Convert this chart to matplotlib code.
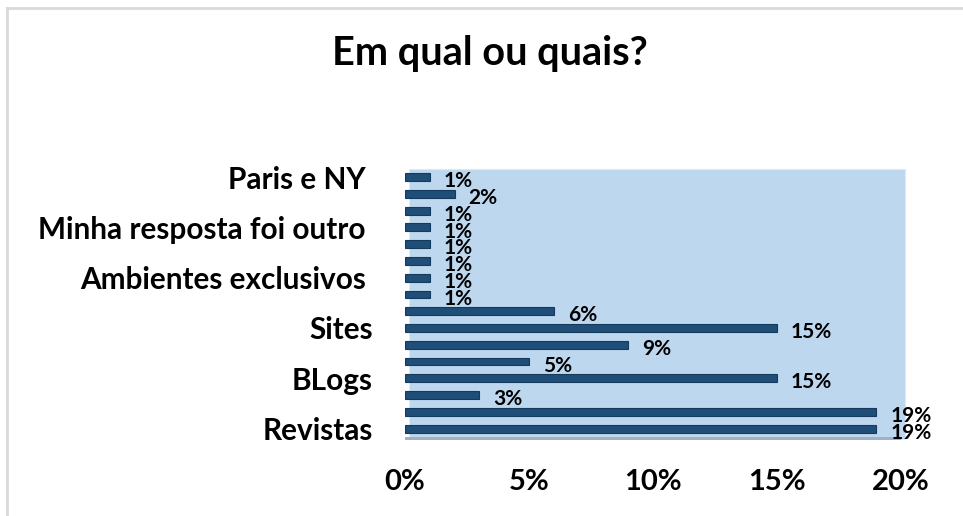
import matplotlib
matplotlib.use("Agg")
import matplotlib.pyplot as plt
from matplotlib.patches import Rectangle
from matplotlib.transforms import offset_copy

plt.rcParams["font.family"] = ["Lato", "DejaVu Sans"]
plt.rcParams["font.weight"] = "bold"

# Survey answers, bottom to top (percent of respondents)
values = [19, 19, 3, 15, 5, 9, 15, 6, 1, 1, 1, 1, 1, 1, 2, 1]
# Only every third category carries a visible name
category_labels = ["Revistas", "", "", "BLogs", "", "", "Sites", "", "",
                   "Ambientes exclusivos ", "", "", "Minha resposta foi outro ",
                   "", "", "Paris e NY "]
x_ticks = [0, 5, 10, 15, 20]
x_tick_labels = ["0%", "5%", "10%", "15%", "20%"]
title = "Em qual ou quais?"

W, H = 963, 516
fig = plt.figure(figsize=(W / 100, H / 100), dpi=100)

# Chart frame (light grey border on top and left)
fig.add_artist(plt.Line2D([7 / W, 7 / W], [0, 1 - 8 / H], color="#D9D9D9", lw=2))
fig.add_artist(plt.Line2D([7 / W, 1], [1 - 8 / H, 1 - 8 / H], color="#D9D9D9", lw=2))

ax = fig.add_axes([405 / W, (H - 437) / H, 496 / W, (437 - 167) / H])
ax.set_facecolor("none")

# Back wall, shifted slightly for the 3-D depth look
wall_tr = offset_copy(ax.transAxes, fig=fig, x=4, y=-2, units="dots")
ax.add_patch(Rectangle((0, 0), 1, 1, transform=wall_tr, facecolor="#BDD7EE",
                       edgecolor="#DDEBF7", lw=0.8, zorder=0, clip_on=False))
# Floor strip
ax.add_patch(Rectangle((0, -0.012), 1, 0.012, transform=ax.transAxes,
                       facecolor="#9FB1C6", edgecolor="none", zorder=1, clip_on=False))

y = list(range(len(values)))
ax.barh(y, values, height=0.47, color="#1F4E79", edgecolor="#163A5C",
        linewidth=0.8, zorder=3)

for yi, v in zip(y, values):
    ax.annotate(f"{v}%", xy=(v, yi), xytext=(10, -3), textcoords="offset points",
                ha="left", va="center", fontsize=15, fontweight="bold",
                color="black", zorder=4)

ax.set_xlim(0, 20)
ax.set_ylim(-0.5, 15.6)
ax.set_xticks(x_ticks)
ax.set_xticklabels(x_tick_labels, fontsize=21, fontweight="bold")
ax.set_yticks(y)
ax.set_yticklabels(category_labels, fontsize=21.4, fontweight="bold")
ax.tick_params(axis="both", length=0)
ax.tick_params(axis="x", pad=23)
ax.tick_params(axis="y", pad=23)
for s in ax.spines.values():
    s.set_visible(False)

fig.text(490 / W, 1 - 53 / H, title, ha="center", va="center",
         fontsize=28.5, fontweight="bold")

fig.savefig("out.png", dpi=100)
